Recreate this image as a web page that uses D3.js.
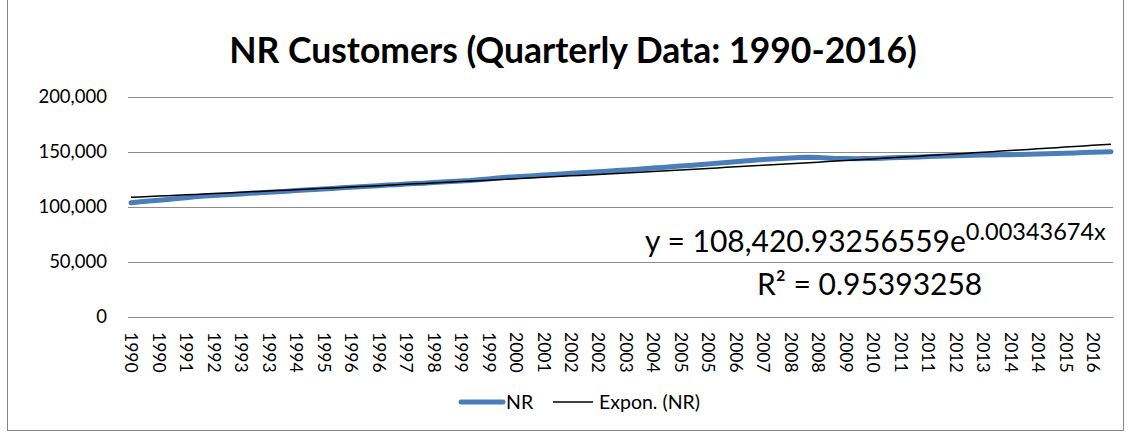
<!DOCTYPE html>
<html>
<head>
<meta charset="utf-8">
<title>NR Customers</title>
<script src="https://d3js.org/d3.v7.min.js"></script>
<style>
  body { margin: 0; background: #fff; }
  text { font-family: Lato, "Open Sans", sans-serif; fill: #000; }
</style>
</head>
<body>
<div id="chart"></div>
<script>
// quarterly NR customers, 1990 Q1 .. 2016 Q4
var years = d3.range(1990, 2017);
var nr = [
  103900, 104700, 105400, 106200,  // 1990
  106900, 107700, 108500, 109200,  // 1991
  110000, 110500, 111000, 111400,  // 1992
  111900, 112400, 112900, 113400,  // 1993
  113900, 114400, 114900, 115400,  // 1994
  115900, 116400, 116900, 117400,  // 1995
  117900, 118400, 118900, 119400,  // 1996
  119900, 120300, 120800, 121300,  // 1997
  121700, 122200, 122700, 123200,  // 1998
  123600, 124100, 124800, 125500,  // 1999
  126300, 127000, 127500, 128000,  // 2000
  128500, 129000, 129500, 130000,  // 2001
  130600, 131100, 131600, 132100,  // 2002
  132600, 133100, 133600, 134200,  // 2003
  134800, 135400, 136000, 136600,  // 2004
  137200, 137800, 138400, 139100,  // 2005
  139800, 140500, 141200, 141900,  // 2006
  142600, 143100, 143600, 144100,  // 2007
  144500, 144900, 145200, 145000,  // 2008
  144600, 144200, 144000, 143900,  // 2009
  144000, 144100, 144400, 144700,  // 2010
  145000, 145200, 145500, 145800,  // 2011
  146100, 146300, 146600, 146900,  // 2012
  147000, 147200, 147300, 147500,  // 2013
  147600, 147800, 147900, 148100,  // 2014
  148300, 148600, 148900, 149200,  // 2015
  149500, 149800, 150000, 150300   // 2016
];
// category labels: the year of each quarter
var quarterYears = [];
years.forEach(function(y){ for (var q = 0; q < 4; q++) quarterYears.push(y); });
var yTicks = [0, 50000, 100000, 150000, 200000];

// exponential trendline as printed on the chart
var trendA = 108420.93256559;
var trendB = 0.00343674;
var r2Text = "0.95393258";

var width = 1130, height = 432;
var svg = d3.select('#chart').append('svg')
  .attr('width', width).attr('height', height);

// chart frame
svg.append('rect')
  .attr('x', 7.5).attr('y', -1)
  .attr('width', 1116).attr('height', 431.5)
  .attr('fill', '#fff').attr('stroke', '#868686');

// title
svg.append('text')
  .attr('x', 573).attr('y', 63)
  .attr('text-anchor', 'middle')
  .attr('font-size', 35.5).attr('font-weight', 'bold')
  .text('NR Customers (Quarterly Data: 1990-2016)');

var idx = d3.range(nr.length);
var x = d3.scalePoint().domain(idx).range([131, 1111]);
var y = d3.scaleLinear().domain([0, 200000]).range([317, 97]);

// gridlines
svg.append('g').selectAll('line')
  .data(yTicks).enter().append('line')
  .attr('x1', 128).attr('x2', 1113)
  .attr('y1', function(d){ return Math.round(y(d)) + 0.5; })
  .attr('y2', function(d){ return Math.round(y(d)) + 0.5; })
  .attr('stroke', '#8c8c8c').attr('stroke-width', 1);

// y axis labels
var yAxis = d3.axisLeft(y).tickValues(yTicks).tickSize(0).tickPadding(0)
  .tickFormat(d3.format(','));
var gy = svg.append('g').attr('transform', 'translate(107,0)').call(yAxis);
gy.select('.domain').remove();
gy.selectAll('text').attr('font-size', 18.5).attr('font-family', 'Lato').attr('fill', '#000');

// x axis labels, every third quarter, rotated
var labelIdx = idx.filter(function(i){ return i % 3 === 0; });
var xAxis = d3.axisBottom(x).tickValues(labelIdx).tickSize(0).tickPadding(0)
  .tickFormat(function(i){ return quarterYears[i]; });
var gx = svg.append('g').attr('transform', 'translate(0,332)').call(xAxis);
gx.select('.domain').remove();
gx.selectAll('text')
  .attr('font-size', 17.5).attr('font-family', 'Lato').attr('fill', '#000')
  .attr('text-anchor', 'start')
  .attr('dy', '0.35em').attr('y', 0)
  .attr('transform', 'rotate(90)');

// NR series
svg.append('path')
  .datum(nr)
  .attr('fill', 'none')
  .attr('stroke', '#4a7ebb').attr('stroke-width', 5)
  .attr('stroke-linecap', 'round').attr('stroke-linejoin', 'round')
  .attr('d', d3.line().x(function(d, i){ return x(i); }).y(function(d){ return y(d); }));

// trendline
svg.append('path')
  .datum(idx)
  .attr('fill', 'none')
  .attr('stroke', '#000').attr('stroke-width', 1.5)
  .attr('d', d3.line()
    .x(function(i){ return x(i); })
    .y(function(i){ return y(trendA * Math.exp(trendB * (i + 1))); }));

// trendline label
var eq = svg.append('text').attr('x', 645).attr('y', 252).attr('font-size', 30);
eq.append('tspan').text('y = ' + d3.format(',.8f')(trendA) + 'e');
eq.append('tspan').attr('font-size', 23.5).attr('dy', -12).text(trendB + 'x');
var r2 = svg.append('text').attr('x', 757).attr('y', 295).attr('font-size', 30);
r2.append('tspan').text('R² = ' + r2Text);

// legend
var lg = svg.append('g').attr('transform', 'translate(0,402)');
lg.append('line').attr('x1', 461).attr('x2', 503).attr('y1', 0).attr('y2', 0)
  .attr('stroke', '#4a7ebb').attr('stroke-width', 5).attr('stroke-linecap', 'round');
lg.append('text').attr('x', 506).attr('y', 0).attr('dy', '0.35em')
  .attr('font-size', 19.5).text('NR');
lg.append('line').attr('x1', 553).attr('x2', 593).attr('y1', 0).attr('y2', 0)
  .attr('stroke', '#000').attr('stroke-width', 1.5);
lg.append('text').attr('x', 599).attr('y', 0).attr('dy', '0.35em')
  .attr('font-size', 19.5).text('Expon. (NR)');
</script>
</body>
</html>
